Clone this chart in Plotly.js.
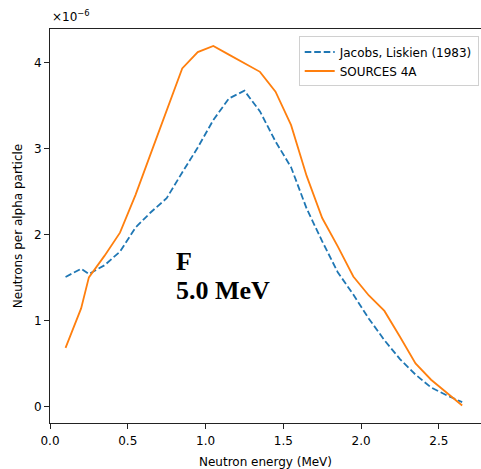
<!DOCTYPE html>
<html>
<head>
<meta charset="utf-8">
<script src="https://cdn.plot.ly/plotly-3.0.1.min.js"></script>
<style>html,body{margin:0;padding:0;background:#fff;}#chart{width:481px;height:469px;}</style>
</head>
<body>
<div id="chart"></div>
<script>
// Neutron energy (MeV)
const energyJacobs = [0.1, 0.2, 0.25, 0.35, 0.45, 0.55, 0.65, 0.75, 0.85, 0.95, 1.05, 1.15, 1.25, 1.35, 1.45, 1.55, 1.65, 1.75, 1.85, 1.95, 2.05, 2.15, 2.25, 2.35, 2.45, 2.55, 2.65];
// Neutrons per alpha particle, in units of 1e-6
const yieldJacobs = [1.505, 1.60, 1.54, 1.64, 1.80, 2.08, 2.26, 2.42, 2.72, 3.01, 3.33, 3.58, 3.67, 3.43, 3.08, 2.78, 2.30, 1.92, 1.56, 1.30, 1.02, 0.77, 0.55, 0.37, 0.22, 0.13, 0.05];

const energySources = [0.1, 0.2, 0.25, 0.35, 0.45, 0.55, 0.65, 0.75, 0.85, 0.95, 1.05, 1.15, 1.25, 1.35, 1.45, 1.55, 1.65, 1.75, 1.85, 1.95, 2.05, 2.15, 2.25, 2.35, 2.45, 2.55, 2.65];
const yieldSources = [0.68, 1.14, 1.50, 1.75, 2.02, 2.46, 2.95, 3.45, 3.93, 4.12, 4.19, 4.09, 3.99, 3.89, 3.66, 3.27, 2.68, 2.19, 1.86, 1.51, 1.29, 1.11, 0.81, 0.50, 0.31, 0.16, 0.01];

const seriesNames = ["Jacobs, Liskien (1983)", "SOURCES 4A"];
const xTicks = [0.0, 0.5, 1.0, 1.5, 2.0, 2.5];
const yTicks = [0, 1, 2, 3, 4];
const exponentLabel = "×10<sup>−6</sup>";
const noteLines = ["F", "5.0 MeV"];

const font = "DejaVu Sans, sans-serif";

const traces = [
  {
    x: energyJacobs, y: yieldJacobs, name: seriesNames[0], type: "scatter", mode: "lines",
    line: {color: "#1f77b4", width: 1.8, dash: "6.6px,2.9px"}
  },
  {
    x: energySources, y: yieldSources, name: seriesNames[1], type: "scatter", mode: "lines",
    line: {color: "#ff7f0e", width: 1.8}
  }
];

const layout = {
  width: 481, height: 469,
  margin: {l: 50, r: 0, t: 29, b: 46, pad: 0},
  paper_bgcolor: "#fff", plot_bgcolor: "#fff",
  font: {family: font, size: 12, color: "#000"},
  showlegend: true,
  legend: {
    x: 0.9947, y: 0.981, xanchor: "right", yanchor: "top",
    bgcolor: "rgba(255,255,255,0.8)", bordercolor: "#d0d0d0", borderwidth: 1,
    font: {family: font, size: 12, color: "#000"},
    tracegroupgap: 0
  },
  xaxis: {
    range: [0, 2.771], tickvals: xTicks, ticktext: xTicks.map(v => v.toFixed(1)),
    showgrid: false, zeroline: false, showline: true, linecolor: "#222", linewidth: 1,
    mirror: true, ticks: "outside", ticklen: 5, tickcolor: "#222", tickwidth: 1,
    ticklabelstandoff: 2,
    tickfont: {family: font, size: 12, color: "#000"},
    title: {text: "Neutron energy (MeV)", font: {family: font, size: 12, color: "#000"}, standoff: 10},
    automargin: false
  },
  yaxis: {
    range: [-0.193, 4.388], tickvals: yTicks, ticktext: yTicks.map(v => String(v)),
    showgrid: false, zeroline: false, showline: true, linecolor: "#222", linewidth: 1,
    mirror: false, ticks: "outside", ticklen: 5, tickcolor: "#222", tickwidth: 1,
    tickfont: {family: font, size: 12, color: "#000"},
    title: {text: "Neutrons per alpha particle", font: {family: font, size: 12, color: "#000"}, standoff: 8},
    automargin: false
  },
  annotations: [
    {xref: "paper", yref: "paper", x: 0.0, y: 1.0, xanchor: "left", yanchor: "bottom",
     text: exponentLabel, showarrow: false, font: {family: font, size: 12, color: "#000"}, xshift: 0, yshift: 3},
    {xref: "x", yref: "y", x: 0.80, y: 1.68, xanchor: "left", yanchor: "middle",
     text: "<b>" + noteLines[0] + "</b>", showarrow: false,
     font: {family: "Liberation Serif, serif", size: 26, color: "#000"}},
    {xref: "x", yref: "y", x: 0.80, y: 1.35, xanchor: "left", yanchor: "middle",
     text: "<b>" + noteLines[1] + "</b>", showarrow: false,
     font: {family: "Liberation Serif, serif", size: 26, color: "#000"}}
  ]
};

Plotly.newPlot("chart", traces, layout, {displayModeBar: false, staticPlot: true});
</script>
</body>
</html>
